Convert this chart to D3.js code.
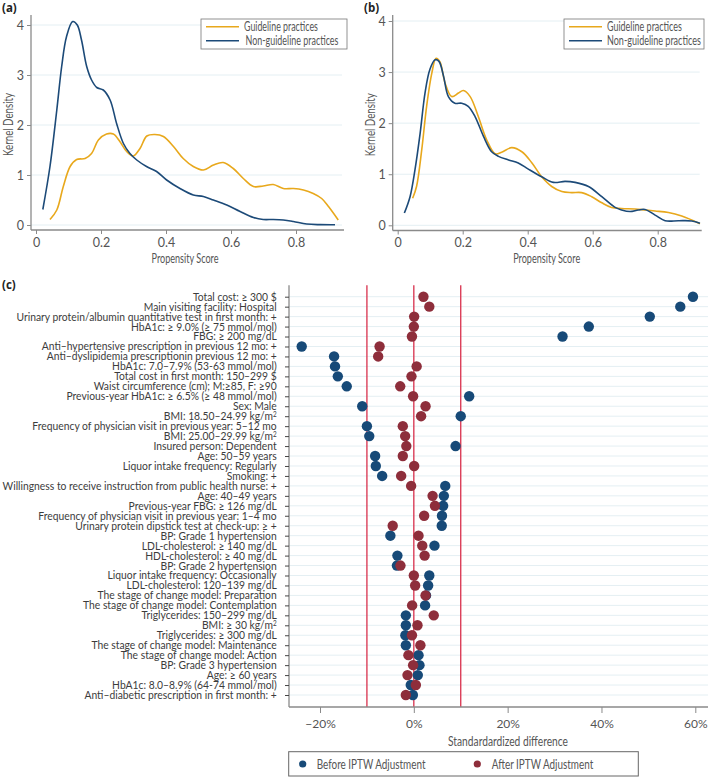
<!DOCTYPE html>
<html><head><meta charset="utf-8">
<script src="https://cdn.jsdelivr.net/npm/d3@7/dist/d3.min.js"></script>
<style>
html,body{margin:0;padding:0;background:#fff;}
svg{display:block;font-family:Lato,"Noto Sans",sans-serif;}
</style></head>
<body><svg id="chart" width="709" height="777"></svg>
<script>
// ---------- Data ----------
const seriesNames = ["Guideline practices", "Non-guideline practices"];
const xTicksPS = [0, 0.2, 0.4, 0.6, 0.8];
const yTicksKD = [0, 1, 2, 3, 4];

// Panel (a): before matching
const aGuideX = [0.043,0.064,0.084,0.105,0.125,0.151,0.171,0.192,0.217,0.238,0.258,0.279,0.299,0.32,0.341,0.366,0.392,0.423,0.453,0.484,0.515,0.546,0.576,0.607,0.638,0.669,0.699,0.73,0.761,0.792,0.823,0.853,0.879,0.9,0.93];
const aGuideY = [0.11,0.3,0.77,1.17,1.31,1.33,1.43,1.7,1.82,1.82,1.67,1.47,1.38,1.53,1.78,1.81,1.77,1.57,1.33,1.17,1.1,1.2,1.25,1.13,0.93,0.77,0.78,0.81,0.73,0.73,0.7,0.63,0.53,0.37,0.1];
const aNonX = [0.021,0.043,0.064,0.079,0.094,0.113,0.127,0.14,0.156,0.171,0.187,0.207,0.228,0.248,0.269,0.289,0.31,0.34,0.371,0.402,0.443,0.484,0.515,0.546,0.587,0.628,0.669,0.699,0.73,0.761,0.792,0.833,0.874,0.92];
const aNonY = [0.31,1.17,2.3,3.17,3.77,4.07,4.0,3.7,3.17,2.9,2.75,2.7,2.5,2.03,1.63,1.43,1.3,1.17,1.07,0.9,0.73,0.6,0.57,0.5,0.4,0.27,0.15,0.11,0.11,0.1,0.07,0.02,0.007,0.005];

// Panel (b): after weighting
const bGuideX = [0.046,0.058,0.074,0.089,0.105,0.118,0.13,0.146,0.166,0.187,0.202,0.223,0.248,0.274,0.3,0.32,0.351,0.382,0.412,0.443,0.474,0.505,0.535,0.566,0.597,0.628,0.658,0.689,0.73,0.761,0.792,0.833,0.874,0.93];
const bGuideY = [0.53,0.76,1.48,2.33,2.98,3.27,3.2,2.78,2.52,2.59,2.64,2.52,2.13,1.67,1.4,1.43,1.52,1.44,1.23,0.95,0.76,0.66,0.64,0.64,0.56,0.44,0.35,0.33,0.32,0.3,0.28,0.25,0.18,0.03];
const bNonX = [0.0205,0.038,0.053,0.069,0.084,0.099,0.115,0.127,0.141,0.156,0.176,0.197,0.217,0.238,0.264,0.289,0.31,0.341,0.371,0.402,0.443,0.479,0.515,0.546,0.587,0.628,0.669,0.689,0.715,0.74,0.761,0.792,0.823,0.864,0.905,0.93];
const bNonY = [0.24,0.56,1.08,1.8,2.59,3.05,3.24,3.21,2.92,2.52,2.39,2.39,2.33,2.13,1.74,1.44,1.35,1.28,1.22,1.1,0.95,0.84,0.86,0.84,0.76,0.56,0.35,0.3,0.27,0.3,0.31,0.2,0.09,0.09,0.085,0.04];

// Panel (c): covariate balance
const covariates = [
 "Total cost: ≥ 300 $","Main visiting facility: Hospital","Urinary protein/albumin quantitative test in first month: +",
 "HbA1c: ≥ 9.0% (≥ 75 mmol/mol)","FBG: ≥ 200 mg/dL","Anti–hypertensive prescription in previous 12 mo: +",
 "Anti–dyslipidemia prescriptionin previous 12 mo: +","HbA1c: 7.0–7.9% (53-63 mmol/mol)","Total cost in first month: 150–299 $",
 "Waist circumference (cm); M:≥85, F: ≥90","Previous-year HbA1c: ≥ 6.5% (≥ 48 mmol/mol)","Sex: Male",
 "BMI: 18.50–24.99 kg/m^2","Frequency of physician visit in previous year: 5–12 mo","BMI: 25.00–29.99 kg/m^2",
 "Insured person: Dependent","Age: 50–59 years","Liquor intake frequency: Regularly","Smoking: +",
 "Willingness to receive instruction from public health nurse: +","Age: 40–49 years","Previous-year FBG: ≥ 126 mg/dL",
 "Frequency of physician visit in previous year: 1–4 mo","Urinary protein dipstick test at check-up: ≥ +",
 "BP: Grade 1 hypertension","LDL-cholesterol: ≥ 140 mg/dL","HDL-cholesterol: ≥ 40 mg/dL","BP: Grade 2 hypertension",
 "Liquor intake frequency: Occasionally","LDL-cholesterol: 120–139 mg/dL","The stage of change model: Preparation",
 "The stage of change model: Contemplation","Triglycerides: 150–299 mg/dL","BMI: ≥ 30 kg/m^2","Triglycerides: ≥ 300 mg/dL",
 "The stage of change model: Maintenance","The stage of change model: Action","BP: Grade 3 hypertension",
 "Age: ≥ 60 years","HbA1c: 8.0–8.9% (64-74 mmol/mol)","Anti–diabetic prescription in first month: +"
];
const beforeIPTW = [59.5,56.8,50.3,37.3,31.7,-23.9,-17.0,-16.8,-16.2,-14.3,11.8,-11.0,10.0,-10.0,-9.5,8.9,-8.25,-8.1,-6.75,6.7,6.4,6.25,6.0,5.95,-5.0,4.4,-3.5,-3.6,3.3,3.05,2.6,2.4,-1.7,-1.7,-1.8,-1.7,1.0,1.2,0.85,-0.65,-0.2];
const afterIPTW = [2.05,3.3,0.07,0.0,-0.4,-7.3,-7.6,0.6,-0.5,-2.9,-0.15,2.5,1.55,-2.35,-1.85,-1.6,-2.35,0.07,-2.7,-0.57,4.0,4.5,2.2,-4.5,1.0,1.8,2.3,-2.85,0.0,0.28,2.5,-0.36,4.25,0.78,-0.4,1.4,-1.15,-0.15,-1.35,0.43,-1.7];
const xTicksSD = [-20, 0, 20, 40, 60];
const refLines = [-10, 0, 10];
const legendC = ["Before IPTW Adjustment", "After IPTW Adjustment"];

// ---------- Styles ----------
const ORANGE = "#e8a81c", BLUE = "#1c4a78", DOTBLUE = "#174a78", DOTRED = "#8e2e3b";
const AXIS = "#8a8a8a", GRID = "#e4eff3", TEXT = "#555", REDLINE = "#d8304c";

const svg = d3.select("#chart");
svg.append("rect").attr("width",709).attr("height",777).attr("fill","#fff");

// place a text and squeeze it horizontally to a target width
function fitText(parent, str, x, y, width, opts = {}) {
  const t = parent.append("text").attr("text-anchor", opts.anchor || "start")
    .attr("dy", "0.35em").attr("fill", opts.fill || TEXT)
    .attr("font-size", opts.size || 12).text(str);
  const w = t.node().getComputedTextLength();
  const s = width / w;
  t.attr("transform", `translate(${x},${y})${opts.rotate ? ` rotate(${opts.rotate})` : ""} scale(${s},1)`);
  return t;
}

function densityPanel(cfg) {
  const g = svg.append("g");
  const x = d3.scaleLinear().domain([0,0.8]).range([cfg.x0, cfg.x0 + 260]);
  const y = d3.scaleLinear().domain([0,4]).range([cfg.y0, cfg.y4]);
  g.selectAll("line.grid").data(yTicksKD).join("line")
    .attr("x1", cfg.axL).attr("x2", cfg.axR - 2)
    .attr("y1", d => y(d)).attr("y2", d => y(d))
    .attr("stroke", GRID).attr("stroke-width", 1);
  const yAx = g.append("g").attr("transform", `translate(${cfg.axL},0)`)
    .call(d3.axisLeft(y).tickValues(yTicksKD).tickFormat(d3.format("d")).tickSize(4).tickPadding(3));
  yAx.select(".domain").attr("d", `M0,${cfg.axT}V${cfg.axB}`);
  const xAx = g.append("g").attr("transform", `translate(0,${cfg.axB})`)
    .call(d3.axisBottom(x).tickValues(xTicksPS).tickFormat(d => d === 0 ? "0" : d3.format(".1f")(d)).tickSize(4).tickPadding(4));
  xAx.select(".domain").attr("d", `M${cfg.axL},0H${cfg.axR}`);
  [yAx, xAx].forEach(a => {
    a.select(".domain").attr("stroke", AXIS).attr("stroke-width", 1.3);
    a.selectAll(".tick line").attr("stroke", AXIS);
    a.selectAll(".tick text").attr("fill", TEXT).attr("font-size", 12.5).attr("font-family", "Lato");
  });
  fitText(g, "Propensity Score", cfg.axL + 154, 258, 67, {anchor: "middle", size: 13.5});
  fitText(g, "Kernel Density", cfg.axL - 22, (cfg.axT + cfg.axB)/2 + 2, 63, {anchor: "middle", size: 12.5, rotate: -90});
  g.append("text").attr("x", cfg.labX).attr("y", 12).attr("font-weight","bold")
    .attr("font-size",11.5).attr("fill","#222").attr("font-family","Open Sans").text(cfg.label);
  const line = d3.line().x(d => x(d[0])).y(d => y(d[1])).curve(d3.curveCatmullRom.alpha(0.5));
  g.append("path").datum(d3.zip(cfg.gx, cfg.gy)).attr("d", line)
    .attr("fill","none").attr("stroke",ORANGE).attr("stroke-width",1.6);
  g.append("path").datum(d3.zip(cfg.nx, cfg.ny)).attr("d", line)
    .attr("fill","none").attr("stroke",BLUE).attr("stroke-width",1.6);
  const lg = g.append("g");
  lg.append("rect").attr("x", cfg.legX).attr("y", 19).attr("width", cfg.legW).attr("height", 30)
    .attr("fill","#fff").attr("stroke","#777").attr("stroke-width",0.8);
  [ORANGE, BLUE].forEach((c, i) => {
    const yy = 26.7 + i*14;
    lg.append("line").attr("x1", cfg.legX + 5).attr("x2", cfg.legX + 38).attr("y1", yy).attr("y2", yy)
      .attr("stroke", c).attr("stroke-width", 1.6);
    fitText(lg, seriesNames[i], cfg.legX + 43 + cfg.legShift[i], yy, cfg.legTW[i], {size: 12.5});
  });
}

densityPanel({label:"(a)", labX:2, x0:36, y0:225, y4:25, axL:31, axR:344, axT:15, axB:230,
  legX:201, legW:146, legShift:[0,1.5], legTW:[74,93], gx:aGuideX, gy:aGuideY, nx:aNonX, ny:aNonY});
densityPanel({label:"(b)", labX:364, x0:397.7, y0:225.3, y4:21, axL:392.7, axR:701.7, axT:15, axB:230.5,
  legX:564, legW:140, legShift:[0,0], legTW:[75,94], gx:bGuideX, gy:bGuideY, nx:bNonX, ny:bNonY});

// ---------- Panel (c) ----------
const gc = svg.append("g");
const L = 289, R = 708, T = 285.3, B = 707;
const xc = d3.scaleLinear().domain([-20, 60]).range([320, 695.3]);
const yc = d3.scalePoint().domain(covariates).range([296.7, 695]);

gc.selectAll("line.grid").data(covariates).join("line")
  .attr("x1", L).attr("x2", R).attr("y1", d => yc(d)).attr("y2", d => yc(d))
  .attr("stroke", GRID).attr("stroke-width", 1);

gc.selectAll("line.ref").data(refLines).join("line")
  .attr("x1", d => xc(d)).attr("x2", d => xc(d)).attr("y1", T).attr("y2", B)
  .attr("stroke", REDLINE).attr("stroke-width", 1.3);

const yAxC = gc.append("g").attr("transform", `translate(${L},0)`)
  .call(d3.axisLeft(yc).tickSize(4).tickFormat(""));
yAxC.select(".domain").attr("d", `M0,${T}V${B}`).attr("stroke", AXIS).attr("stroke-width",1.3);
yAxC.selectAll(".tick line").attr("stroke","#444");

const xAxC = gc.append("g").attr("transform", `translate(0,${B})`)
  .call(d3.axisBottom(xc).tickValues(xTicksSD).tickFormat(d => (d < 0 ? "−" + Math.abs(d) : d) + "%").tickSize(6).tickPadding(6));
xAxC.select(".domain").attr("d", `M${L},0H${R}`).attr("stroke", AXIS).attr("stroke-width",1.3);
xAxC.selectAll(".tick line").attr("stroke", AXIS);
xAxC.selectAll(".tick text").attr("fill", TEXT).attr("font-size", 12).attr("font-family","Lato");

fitText(gc, "Standardardized difference", 508, 741, 120, {anchor: "middle", size: 13.5});

const labG = gc.append("g");
const labels = labG.selectAll("text").data(covariates).join("text")
  .attr("text-anchor","end").attr("dy","0.35em").attr("fill","#3c3c3c")
  .attr("font-size", 11.3).attr("font-family","Lato");
labels.each(function(d) {
  const t = d3.select(this);
  if (d.includes("^2")) {
    t.append("tspan").text(d.replace("^2",""));
    t.append("tspan").attr("font-size", 7).attr("dy", "-0.45em").text("2");
  } else t.text(d);
});
let maxW = 0;
labels.each(function(){ maxW = Math.max(maxW, this.getComputedTextLength()); });
const sx = 274.5 / maxW;
labels.attr("transform", d => `translate(276.7,${yc(d)}) scale(${sx},1)`);

gc.append("text").attr("x", 2).attr("y", 289).attr("font-weight","bold").attr("font-size",11.5)
  .attr("fill","#222").attr("font-family","Open Sans").text("(c)");

gc.selectAll("circle.before").data(covariates).join("circle")
  .attr("cx", (d,i) => xc(beforeIPTW[i])).attr("cy", d => yc(d)).attr("r", 5.2).attr("fill", DOTBLUE);
gc.selectAll("circle.after").data(covariates).join("circle")
  .attr("cx", (d,i) => xc(afterIPTW[i])).attr("cy", d => yc(d)).attr("r", 5.2).attr("fill", DOTRED);

const lc = gc.append("g");
lc.append("rect").attr("x", 288.7).attr("y", 751.7).attr("width", 349.6).attr("height", 24.3)
  .attr("fill","#fff").attr("stroke","#666").attr("stroke-width",1);
[[302.7, DOTBLUE, 316.7, 109],[477.3, DOTRED, 491.7, 101.6]].forEach((p, i) => {
  lc.append("circle").attr("cx", p[0]).attr("cy", 764).attr("r", 3.6).attr("fill", p[1]);
  fitText(lc, legendC[i], p[2], 764, p[3], {size: 13});
});
</script></body></html>
